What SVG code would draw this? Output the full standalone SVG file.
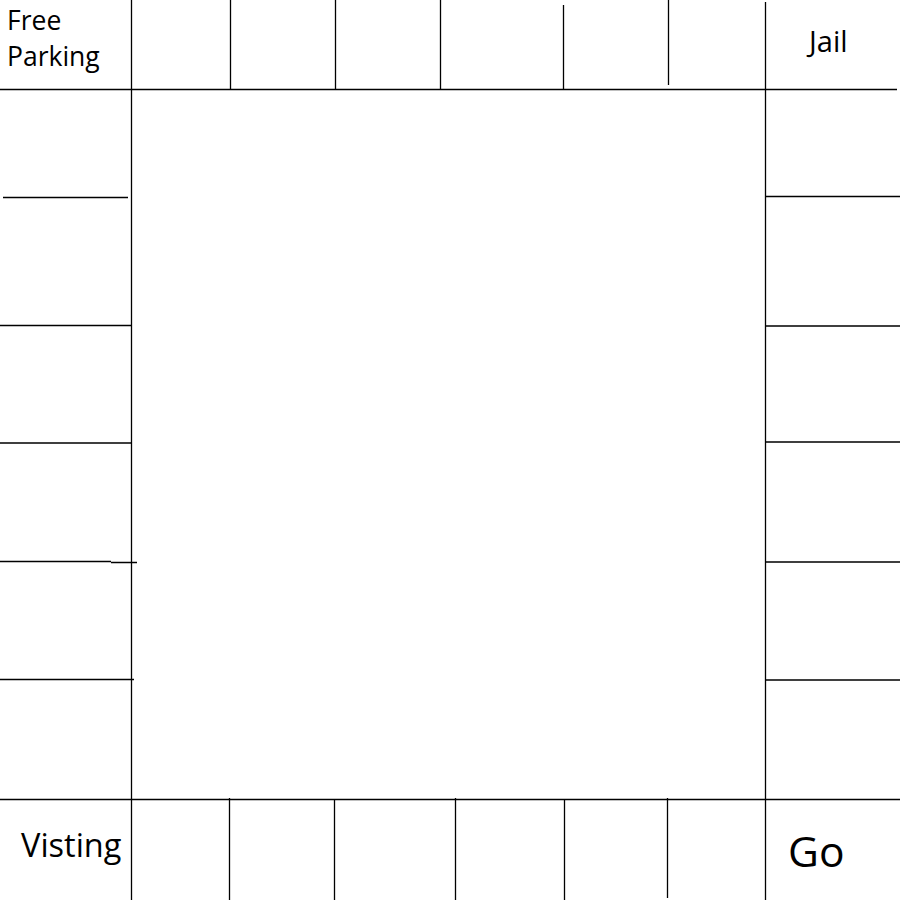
<svg xmlns="http://www.w3.org/2000/svg" width="900" height="900" viewBox="0 0 900 900">
<style>
.l{stroke:#000;stroke-width:1.3;fill:none}
.t{font-family:"Open Sans","Liberation Sans",sans-serif;fill:#000}
</style>
<rect width="900" height="900" fill="#fff"/>
<g id="grid" class="l">
<path d="M0 89.5H897M0 799.5H900"/>
<path d="M131.5 0V900M765.5 2V900"/>
<path d="M230.5 0V89M335.5 0V89M440.5 0V89M563.5 5V89M668.5 0V85"/>
<path d="M229.5 798V900M334.5 800V900M455.5 798V900M564.5 800V900M667.5 798V898"/>
<path d="M3 197.5H128M0 325.5H131M0 443H131M0 561.5H111M111 562.5H137M0 679.5H134"/>
<path d="M766 196.5H900M766 326H900M766 442H900M766 562H900M766 680H900"/>
</g>
<g id="free-parking"><text class="t" x="7" y="30" font-size="26.5">Free</text><text class="t" x="7" y="66" font-size="26.5">Parking</text></g>
<g id="jail"><text class="t" x="809" y="52" font-size="29">Jail</text></g>
<g id="visiting"><text class="t" x="21" y="857" font-size="32.5">Visting</text></g>
<g id="go"><text class="t" x="788" y="867" font-size="42.5">Go</text></g>
</svg>
